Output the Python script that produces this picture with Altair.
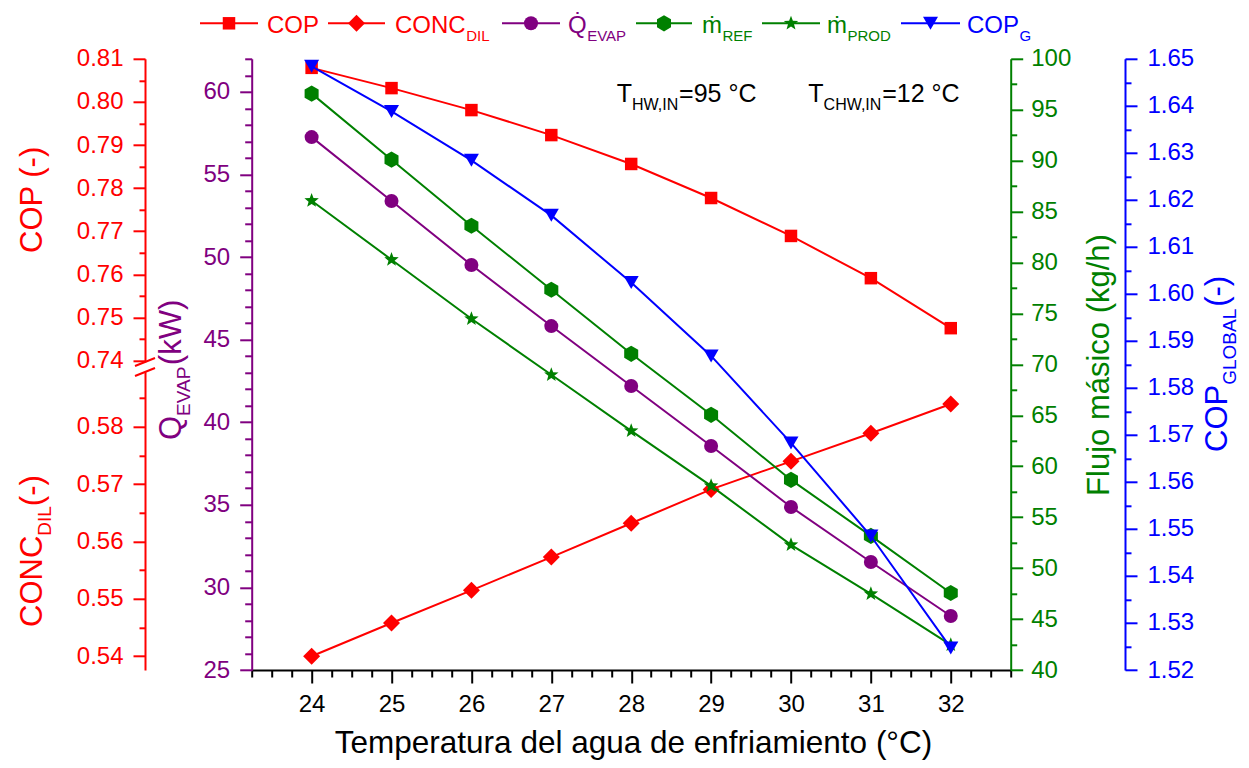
import math
import altair as alt
import pandas as pd

# ---------------- data ----------------
temps = [24, 25, 26, 27, 28, 29, 30, 31, 32]
cop = [0.8079, 0.8032, 0.7981, 0.7923, 0.7856, 0.7777, 0.7689, 0.7591, 0.7475]
conc_dil = [0.5400, 0.5458, 0.5515, 0.5573, 0.5632, 0.5691, 0.5740, 0.5789, 0.5840]
q_evap = [57.26, 53.39, 49.52, 45.82, 42.19, 38.56, 34.87, 31.54, 28.27]
m_ref = [96.58, 90.10, 83.61, 77.33, 71.04, 65.05, 58.66, 53.16, 47.56]
m_prod = [86.07, 80.28, 74.48, 68.98, 63.48, 58.07, 52.28, 47.47, 42.46]
cop_g = [1.6484, 1.6388, 1.6284, 1.6167, 1.6024, 1.5868, 1.5683, 1.5485, 1.5247]

legend_main = ["COP", "CONC", "Q\u0307", "\u1e41", "\u1e41", "COP"]
legend_sub = ["", "DIL", "EVAP", "REF", "PROD", "G"]

x_title = "Temperatura del agua de enfriamiento (°C)"

# ---------------- layout / style ----------------
FONT = "Liberation Sans"
RED, PURPLE, GREEN, BLUE, BLACK = "#FF0000", "#800080", "#008000", "#0000FF", "#000000"

PLOT_LEFT, PLOT_TOP = 251.7, 58.8
W, H = 759, 611.2


def rx(px):
    return px - PLOT_LEFT


def ry(py):
    return py - PLOT_TOP


AW = {'A': 667, 'B': 667, 'C': 722, 'D': 722, 'E': 667, 'F': 611, 'G': 778, 'H': 722,
      'I': 278, 'L': 556, 'N': 722, 'O': 778, 'P': 667, 'Q': 778, 'R': 722, 'T': 611,
      'V': 667, 'W': 944, ',': 278, ' ': 278, '(': 333, ')': 333, '-': 333, '=': 584,
      '°': 400, 'k': 500, 'm': 833, '\u1e41': 833, '\u0307': 0, '/': 278}


def tw(s, size):
    return sum(AW.get(c, 556) for c in s) / 1000.0 * size


def frange(a, b, step):
    n = int(round((b - a) / step))
    return [round(a + i * step, 6) for i in range(n + 1)]


def cond(test, major, minor):
    return {"condition": {"test": test, "value": major}, "value": minor}


HEX = "M0,-1L0.866,-0.5L0.866,0.5L0,1L-0.866,0.5L-0.866,-0.5Z"
_pts = []
for i in range(10):
    a = math.radians(-90 + 36 * i)
    r = 1.0 if i % 2 == 0 else 0.42
    _pts.append(f"{r * math.cos(a):.3f},{r * math.sin(a):.3f}")
STAR = "M" + "L".join(_pts) + "Z"

df = pd.DataFrame({"T": temps, "cop": cop, "conc": conc_dil, "q": q_evap,
                   "mref": m_ref, "mprod": m_prod, "copg": cop_g})
one = pd.DataFrame({"k": [0]})

TEST_INT = "datum.value % 1 === 0"
TEST_HUND = "abs(datum.value*100 - round(datum.value*100)) < 0.001"
TEST_FIVE = "datum.value % 5 === 0"

x_enc = alt.X(
    "T:Q",
    scale=alt.Scale(domain=[23.25, 32.75], nice=False, zero=False),
    axis=alt.Axis(values=frange(23.25, 32.75, 0.25),
                  labelExpr=f"{TEST_INT} ? format(datum.value, 'd') : ''",
                  tickSize=cond(TEST_INT, 13, 7), title=None, grid=False,
                  domainColor=BLACK, tickColor=BLACK, labelColor=BLACK,
                  domainWidth=2, tickWidth=2, labelPadding=9,
                  labelFont=FONT, labelFontSize=24, labelOverlap=False, labelFlush=False),
)


def yaxis(color, orient, offset, values, test, fmt, pad=10, major=12, minor=6):
    return alt.Axis(orient=orient, offset=offset, values=values,
                    labelExpr=f"{test} ? format(datum.value, '{fmt}') : ''",
                    tickSize=cond(test, major, minor), title=None, grid=False,
                    domainColor=color, tickColor=color, labelColor=color,
                    domainWidth=2, tickWidth=2, labelPadding=pad,
                    labelFont=FONT, labelFontSize=24, labelOverlap=False, labelFlush=False)


def series(field, color, shape, size, scale, axis):
    return alt.Chart(df).mark_line(
        color=color, strokeWidth=2,
        point=alt.OverlayMarkDef(shape=shape, size=size, filled=True, color=color,
                                 opacity=1, strokeWidth=0),
    ).encode(x=x_enc, y=alt.Y(f"{field}:Q", scale=scale, axis=axis))


RED_OFF = PLOT_LEFT - 145.0
UP_END = 303.0
LOW_START = 313.0
cop_scale = alt.Scale(domain=[0.81 - UP_END / 4310.0, 0.81], range=[UP_END, 0], nice=False, zero=False)
conc_scale = alt.Scale(domain=[0.5376, 0.5376 + (H - LOW_START) / 5733.0], range=[H, LOW_START],
                       nice=False, zero=False)
q_scale = alt.Scale(domain=[25, 62], nice=False, zero=False)
m_scale = alt.Scale(domain=[40, 100], nice=False, zero=False)
g_scale = alt.Scale(domain=[1.52, 1.65], nice=False, zero=False)

layers = [
    series("cop", RED, "square", 156, cop_scale,
           yaxis(RED, "left", RED_OFF, frange(0.74, 0.81, 0.005), TEST_HUND, ".2f")),
    series("conc", RED, "diamond", 289, conc_scale,
           yaxis(RED, "left", RED_OFF, frange(0.54, 0.585, 0.005), TEST_HUND, ".2f")),
    series("q", PURPLE, "circle", 196, q_scale,
           yaxis(PURPLE, "left", 0, frange(25, 62, 1), TEST_FIVE, "d", minor=7)),
    series("mref", GREEN, HEX, 262, m_scale,
           yaxis(GREEN, "right", 0, frange(40, 100, 2.5), TEST_FIVE, "d", pad=8)),
    series("mprod", GREEN, STAR, 230, m_scale, None),
    series("copg", BLUE, "triangle-down", 225, g_scale,
           yaxis(BLUE, "right", 1125 - (PLOT_LEFT + W), frange(1.52, 1.65, 0.005), TEST_HUND, ".2f")),
]


def txt(s, xp, yp, size, color, align="left", angle=0, dx=0.0, dy=0.0):
    kw = dict(text=s, font=FONT, fontSize=size, color=color, align=align,
              baseline="alphabetic", dx=dx, dy=dy)
    if angle:
        kw["angle"] = angle
    return alt.Chart(one).mark_text(**kw).encode(x=alt.value(rx(xp)), y=alt.value(ry(yp)))


def rule(x1, y1, x2, y2, color, width=2):
    return alt.Chart(one).mark_rule(color=color, strokeWidth=width).encode(
        x=alt.value(rx(x1)), x2=alt.value(rx(x2)), y=alt.value(ry(y1)), y2=alt.value(ry(y2)))


def symbol(xp, yp, shape, size, color):
    return alt.Chart(one).mark_point(shape=shape, size=size, filled=True, color=color,
                                     opacity=1, strokeWidth=0).encode(
        x=alt.value(rx(xp)), y=alt.value(ry(yp)))


# axis break marks on the red axis
layers += [rule(135, 366, 155, 358, RED), rule(135, 376, 155, 368, RED)]

# legend
leg_colors = [RED, RED, PURPLE, GREEN, GREEN, BLUE]
leg_shapes = ["square", "diamond", "circle", HEX, STAR, "triangle-down"]
leg_sizes = [156, 289, 196, 262, 230, 225]
leg_line = [(200, 258), (328, 385), (502, 560), (636, 692), (762, 820), (901, 960)]
leg_text_x = [267, 395, 568, 702, 827, 967]
LEG_Y, LEG_BASE, LEG_SUB = 23.3, 33, 40.5
for i in range(6):
    c = leg_colors[i]
    x1, x2 = leg_line[i]
    layers.append(rule(x1, LEG_Y, x2, LEG_Y, c))
    layers.append(symbol((x1 + x2) / 2, LEG_Y, leg_shapes[i], leg_sizes[i], c))
    layers.append(txt(legend_main[i], leg_text_x[i], LEG_BASE, 24, c))
    if legend_sub[i]:
        layers.append(txt(legend_sub[i], leg_text_x[i] + tw(legend_main[i], 24) + 0.5, LEG_SUB, 15, c))

# annotations
for tx, sub, rest in [(616.7, "HW,IN", "=95 °C"), (808.3, "CHW,IN", "=12 °C")]:
    layers.append(txt("T", tx, 101.7, 25, BLACK))
    sx = tx + tw("T", 25)
    layers.append(txt(sub, sx, 109.7, 16, BLACK))
    layers.append(txt(rest, sx + tw(sub, 16), 101.7, 25, BLACK))

# axis titles
TS, SS, SD = 31, 19, 9
layers.append(txt(x_title, 633.5, 752.5, 31.5, BLACK, align="center"))
layers.append(txt("COP (-)", 41.7, 253, TS, RED, angle=270))
layers.append(txt("CONC", 41.7, 627, TS, RED, angle=270))
layers.append(txt("DIL", 41.7, 627, SS, RED, angle=270, dx=tw("CONC", TS), dy=SD))
layers.append(txt("(-)", 41.7, 627, TS, RED, angle=270, dx=tw("CONC", TS) + tw("DIL", SS)))
layers.append(txt("Q", 181, 440, TS, PURPLE, angle=270))
layers.append(txt("EVAP", 181, 440, SS, PURPLE, angle=270, dx=tw("Q", TS), dy=SD))
layers.append(txt(" (kW)", 181, 440, TS, PURPLE, angle=270, dx=tw("Q", TS) + tw("EVAP", SS)))
layers.append(txt("Flujo másico (kg/h)", 1109, 365, TS, GREEN, align="center", angle=270))
BX = 1227
layers.append(txt("COP", BX, 452, TS, BLUE, angle=270))
layers.append(txt("GLOBAL", BX, 452, SS, BLUE, angle=270, dx=tw("COP", TS), dy=SD))
layers.append(txt("(-)", BX, 452, TS, BLUE, angle=270, dx=tw("COP", TS) + tw("GLOBAL", SS) + 2))

chart = alt.layer(*layers).resolve_scale(y="independent").properties(
    width=W, height=H,
    padding={"left": PLOT_LEFT - 8, "top": PLOT_TOP - 8, "right": 1233 - (PLOT_LEFT - 8) - W,
             "bottom": 752 - (PLOT_TOP - 8) - H},
    autosize=alt.AutoSizeParams(type="none"),
    background="white",
).configure_view(stroke=None)

chart.save("out.html", embed_options={"renderer": "svg", "actions": False})
